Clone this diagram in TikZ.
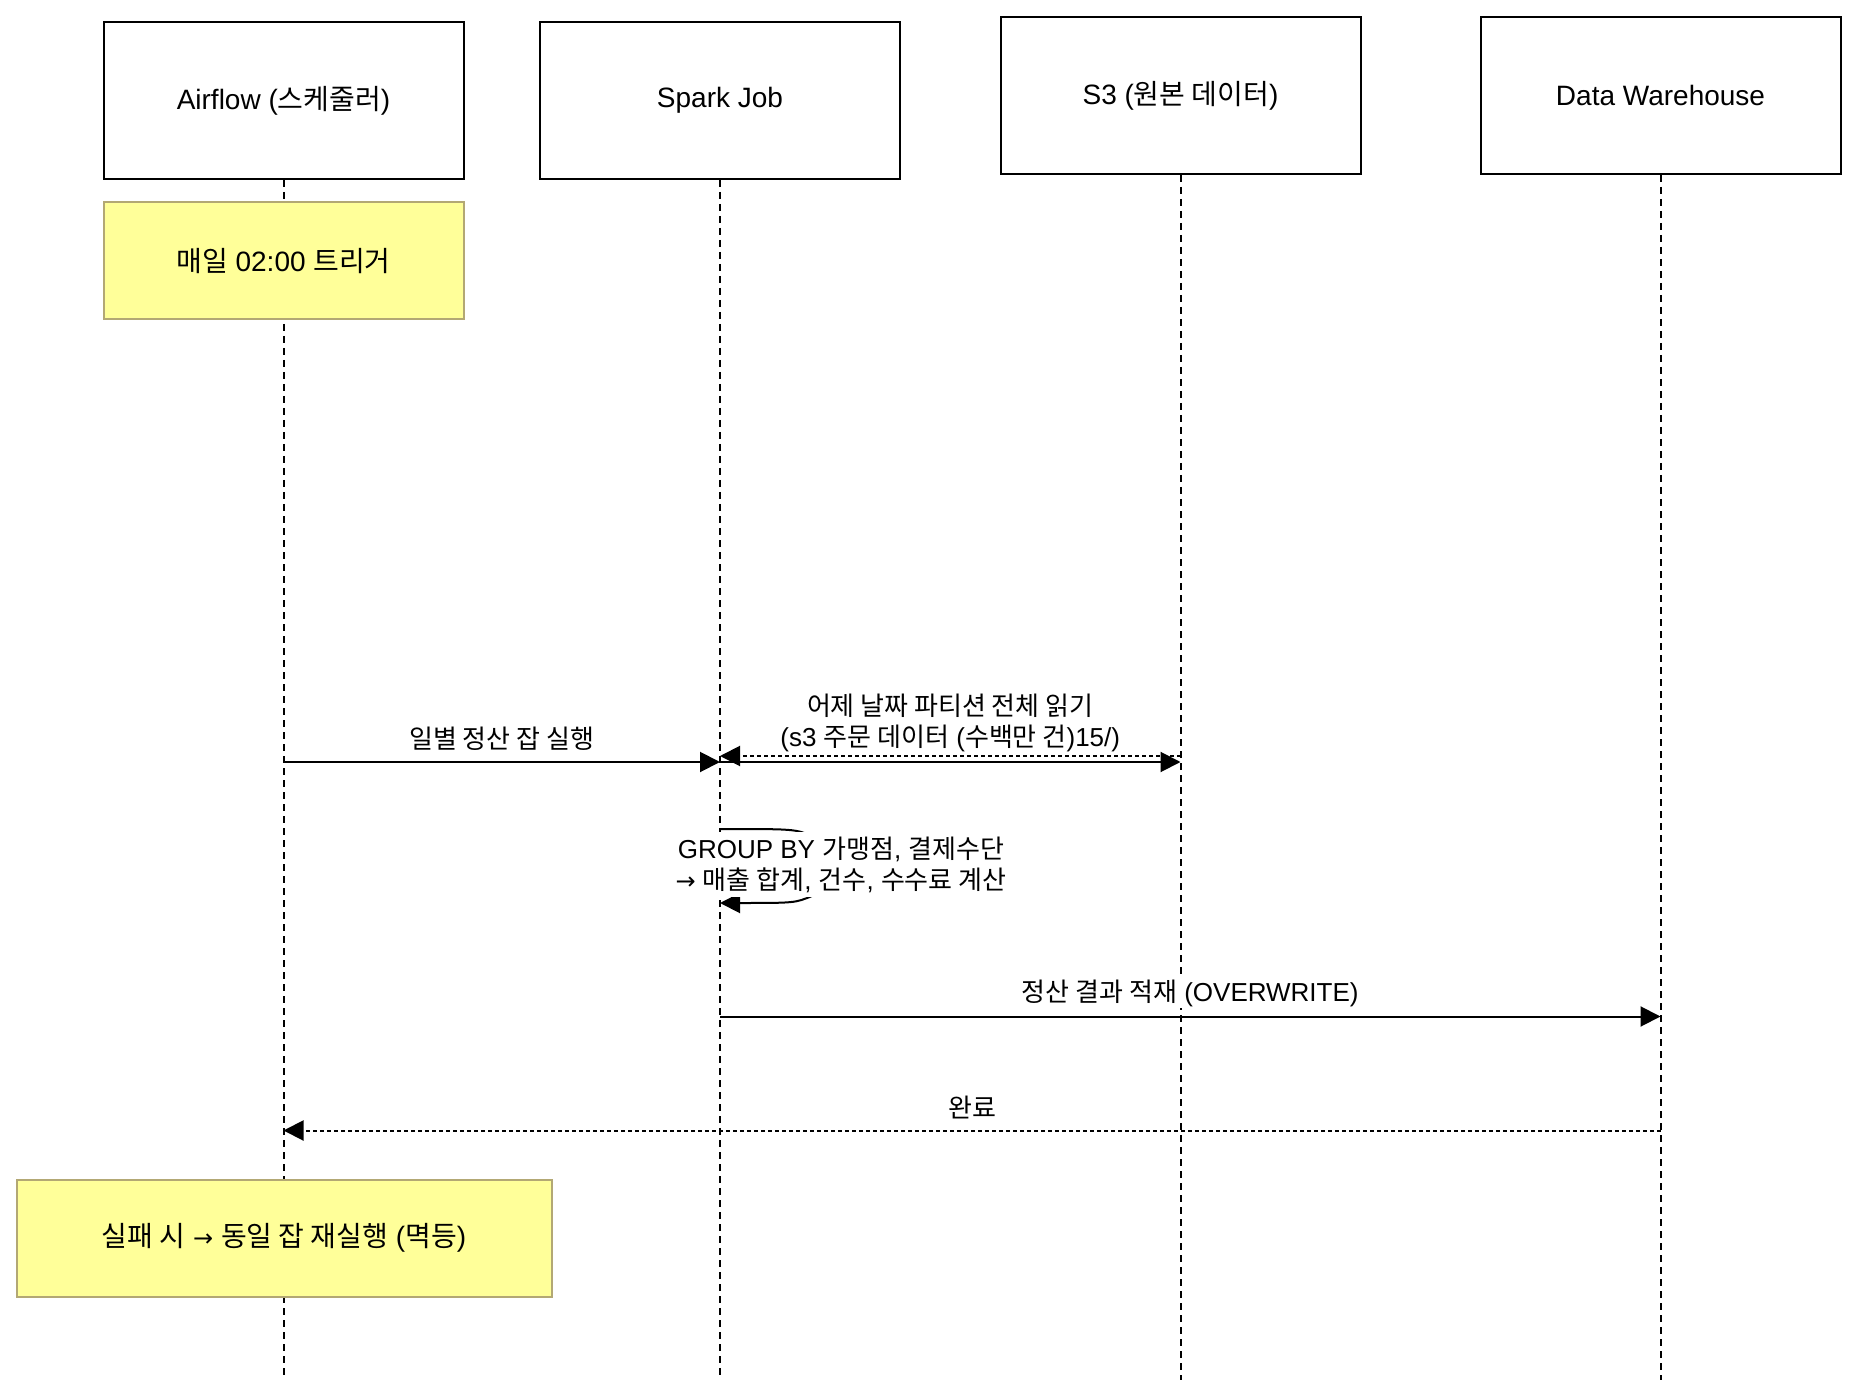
\documentclass[tikz,border=0pt]{standalone}
\usepackage{fontspec}
\setmainfont{Liberation Sans}
\newfontfamily\kr{Noto Sans CJK KR}
\newfontfamily\sym{DejaVu Sans}
\usetikzlibrary{arrows.meta,calc}
\definecolor{notefill}{HTML}{FFFF99}
\definecolor{noteline}{HTML}{B3A874}
\newcommand{\toarrow}{{\sym\fontsize{12}{14}\selectfont →}}
\tikzset{
	actor/.style={draw,line width=1pt,minimum width=180pt,minimum height=78.5pt,font=\fontsize{14}{17}\selectfont},
	note/.style={draw=noteline,fill=notefill,line width=1pt,minimum height=58.5pt,font=\fontsize{14}{17}\selectfont},
	life/.style={line width=1pt,dash pattern=on 3.5pt off 2.5pt},
	msg/.style={line width=1pt,-{Triangle[length=10pt,width=10pt]}},
	ret/.style={msg,dash pattern=on 2pt off 1.5pt},
	lbl/.style={fill=white,inner xsep=1pt,inner ysep=1pt,align=center,font=\fontsize{13}{15.5}\selectfont}
}
\begin{document}
\begin{tikzpicture}[x=0.5pt,y=-0.5pt]
			\path[fill=white] (0,0) rectangle (1860,1380);
			\useasboundingbox (0,0) rectangle (1860,1380);
			\node[actor] (air) at (283.5,100.5) {Airflow ({\kr 스케줄러})};
			\node[actor] (spark) at (720,100.5) {Spark Job};
			\node[actor] (s3) at (1180.5,95.5) {S3 ({\kr 원본 데이터})};
			\node[actor] (dw) at (1660.5,95.5) {Data Warehouse};
			\coordinate (bot) at (0,1380);
			\foreach \a in {air,spark,s3,dw}
			\draw[life] (\a.south) -- (\a.south |- bot);
			\node[note,minimum width=180pt] (daily) at (283.5,261) {{\kr 매일} 02:00 {\kr 트리거}};
			\node[note,minimum width=267.5pt] (retry) at (284,1238) {{\kr 실패 시} \toarrow{} {\kr 동일 잡 재실행} ({\kr 멱등})};
			\coordinate (m1) at (0,762);
			\coordinate (m2) at (0,756);
			\coordinate (m3) at (0,829);
			\coordinate (m4) at (0,903);
			\coordinate (m5) at (0,1016.5);
			\coordinate (m6) at (0,1130.5);
			\coordinate (lpA) at (812,836);
			\coordinate (lpB) at (812,896);
			\draw[msg] (air |- m1) -- node[lbl,yshift=11.75pt] (run) {{\kr 일별 정산 잡 실행}} (spark |- m1);
			\draw[msg] (spark |- m1) -- node[lbl,yshift=19.75pt] (read) {{\kr 어제 날짜 파티션 전체 읽기}\\(s3 {\kr 주문 데이터} ({\kr 수백만 건})15/)} (s3 |- m1);
			\draw[ret] (s3 |- m2) -- (spark |- m2);
			\draw[msg] (spark |- m3) .. controls (795,829) .. (lpA) -- node[lbl,inner ysep=2.5pt,xshift=14.5pt,yshift=0.75pt] (agg) {GROUP BY {\kr 가맹점}, {\kr 결제수단}\\\toarrow{} {\kr 매출 합계}, {\kr 건수}, {\kr 수수료 계산}} (lpB) .. controls (795,903) .. (spark |- m4);
			\draw[msg] (spark |- m5) -- node[lbl,yshift=11.75pt] (load) {{\kr 정산 결과 적재} (OVERWRITE)} (dw |- m5);
			\draw[ret] (dw |- m6) -- node[lbl,yshift=11.75pt] (done) {{\kr 완료}} (air |- m6);
\end{tikzpicture}
\end{document}
